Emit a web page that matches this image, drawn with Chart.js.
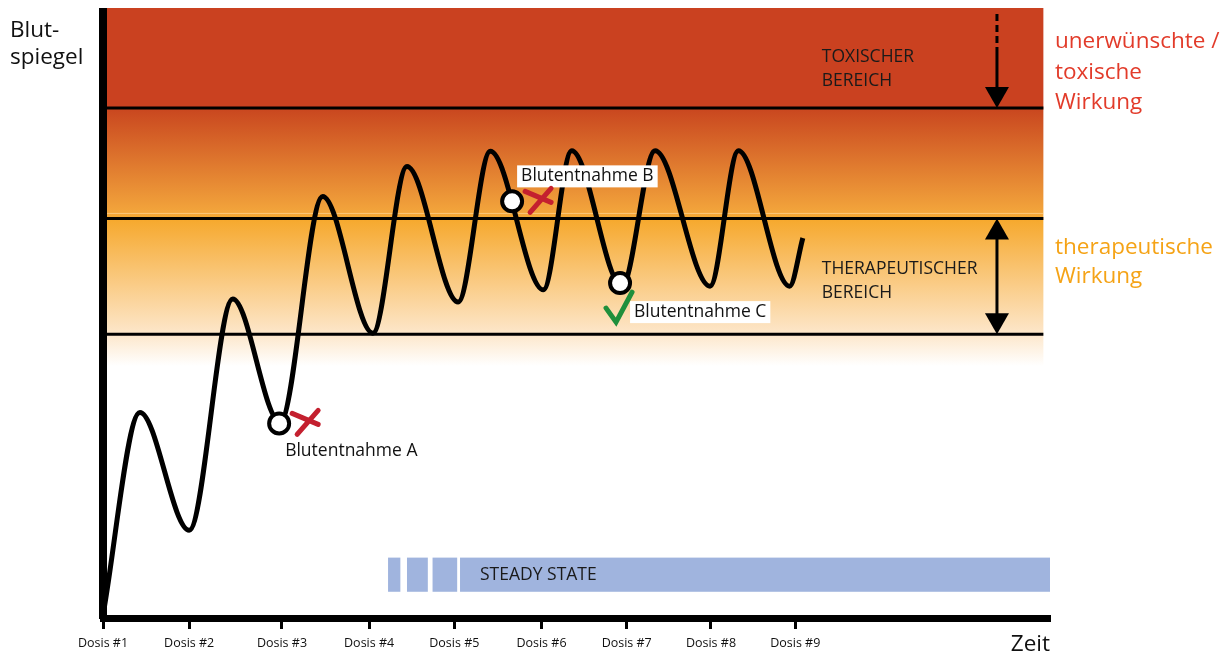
<!DOCTYPE html>
<html>
<head>
<meta charset="utf-8">
<script src="https://cdn.jsdelivr.net/npm/chart.js@4.4.1/dist/chart.umd.min.js"></script>
<style>
  body { margin: 0; background: #fff; }
  canvas { display: block; }
</style>
</head>
<body>
<canvas id="spiegel" width="1232" height="652"></canvas>
<script>
// Daten
const doseTimes = [0, 9.1, 18.9, 28.1, 37.1, 46.3, 55.3, 64.2, 73.1];
const doseLabels = ['Dosis #1', 'Dosis #2', 'Dosis #3', 'Dosis #4', 'Dosis #5', 'Dosis #6', 'Dosis #7', 'Dosis #8', 'Dosis #9'];

const curveTimes = [0, 3.9, 9.1, 13.7, 18.7, 23.2, 28.5, 32.1, 37.5, 40.9, 46.5, 49.5, 54.8, 58.3, 64.1, 67.1, 72.5, 73.9];
const curveLevels = [0.5, 33.7, 14.4, 52.3, 32.1, 69.1, 46.7, 74.0, 51.8, 76.5, 53.8, 76.6, 54.4, 76.6, 54.4, 76.6, 54.4, 62.3];

const sampleNames = ['Blutentnahme A', 'Blutentnahme B', 'Blutentnahme C'];
const sampleTimes = [18.6, 43.2, 54.6];
const sampleLevels = [31.9, 68.3, 54.9];

// Grenzen: toxisch, therapeutisch oben, therapeutisch unten
const bandLimits = [83.6, 65.5, 46.5];
const fadeLevel = 41.3;
const bandEnd = 99.3;

const steadyStarts = [30.1, 32.1, 34.8, 37.7];
const steadyEnds = [31.4, 34.3, 37.4, 100];
const steadyLow = 4.3;
const steadyHigh = 9.9;

const FONT = '"Open Sans", "Noto Sans", sans-serif';

function arrowHead(ctx, x, yTip, dir) {
  // dir = 1 -> Spitze nach unten, -1 -> nach oben
  ctx.beginPath();
  ctx.moveTo(x, yTip);
  ctx.lineTo(x - 12, yTip - dir * 21);
  ctx.lineTo(x + 12, yTip - dir * 21);
  ctx.closePath();
  ctx.fill();
}

const bereiche = {
  id: 'bereiche',
  beforeDraw(chart) {
    const { ctx, chartArea: a, scales: { x, y } } = chart;
    const xl = a.left;
    const xr = x.getPixelForValue(bandEnd);
    const yTop = y.getPixelForValue(100);
    const yTox = y.getPixelForValue(bandLimits[0]);
    const yTher = y.getPixelForValue(bandLimits[1]);
    const yLow = y.getPixelForValue(bandLimits[2]);
    const yFade = y.getPixelForValue(fadeLevel);

    ctx.save();
    ctx.fillStyle = '#ca4120';
    ctx.fillRect(xl, yTop, xr - xl, yTox - yTop);

    const h = yFade - yTox;
    const g = ctx.createLinearGradient(0, yTox, 0, yFade);
    g.addColorStop(0, '#c9461f');
    g.addColorStop((yTher - 5 - yTox) / h, '#f3a63c');
    g.addColorStop((yTher - yTox) / h, '#f6a82c');
    g.addColorStop((yLow - yTox) / h, '#fde7cb');
    g.addColorStop(1, '#ffffff');
    ctx.fillStyle = g;
    ctx.fillRect(xl, yTox, xr - xl, yFade - yTox);

    ctx.strokeStyle = 'rgba(255,220,160,0.6)';
    ctx.lineWidth = 1;
    ctx.beginPath();
    ctx.moveTo(xl, yTher - 5);
    ctx.lineTo(xr, yTher - 5);
    ctx.stroke();

    ctx.strokeStyle = '#000';
    ctx.lineWidth = 3;
    bandLimits.forEach(v => {
      const yy = y.getPixelForValue(v);
      ctx.beginPath();
      ctx.moveTo(xl, yy);
      ctx.lineTo(xr, yy);
      ctx.stroke();
    });

    // Steady State
    ctx.fillStyle = '#a0b4de';
    const ys1 = y.getPixelForValue(steadyHigh);
    const ys2 = y.getPixelForValue(steadyLow);
    steadyStarts.forEach((s, i) => {
      const x1 = x.getPixelForValue(s);
      const x2 = x.getPixelForValue(steadyEnds[i]);
      ctx.fillRect(x1, ys1, x2 - x1, ys2 - ys1);
    });
    ctx.fillStyle = '#1a1a1a';
    ctx.font = '17.5px ' + FONT;
    ctx.textBaseline = 'middle';
    ctx.fillText('STEADY STATE', x.getPixelForValue(steadyStarts[3]) + 20, (ys1 + ys2) / 2);
    ctx.restore();
  },
  afterDraw(chart) {
    const { ctx, chartArea: a, scales: { x, y } } = chart;
    const ax = x.getPixelForValue(94.4);
    const yTop = y.getPixelForValue(100);
    const yTox = y.getPixelForValue(bandLimits[0]);
    const yTher = y.getPixelForValue(bandLimits[1]);
    const yLow = y.getPixelForValue(bandLimits[2]);

    ctx.save();
    // weisser Streifen ueber dem Achsenende
    ctx.fillStyle = '#fff';
    ctx.fillRect(a.left - 6, 0, 12, yTop);

    ctx.fillStyle = '#000';
    ctx.strokeStyle = '#000';
    ctx.lineWidth = 3;
    // Pfeil toxisch
    ctx.setLineDash([7, 4]);
    ctx.beginPath();
    ctx.moveTo(ax, yTop + 6);
    ctx.lineTo(ax, yTop + 40);
    ctx.stroke();
    ctx.setLineDash([]);
    ctx.beginPath();
    ctx.moveTo(ax, yTop + 40);
    ctx.lineTo(ax, yTox - 18);
    ctx.stroke();
    arrowHead(ctx, ax, yTox, 1);
    // Doppelpfeil therapeutisch
    ctx.beginPath();
    ctx.moveTo(ax, yTher + 18);
    ctx.lineTo(ax, yLow - 18);
    ctx.stroke();
    arrowHead(ctx, ax, yTher, -1);
    arrowHead(ctx, ax, yLow, 1);

    // Bereichstexte
    ctx.fillStyle = '#1a1a1a';
    ctx.font = '17.5px ' + FONT;
    ctx.textBaseline = 'middle';
    const tx = x.getPixelForValue(75.9);
    ctx.fillText('TOXISCHER', tx, yTop + 49);
    ctx.fillText('BEREICH', tx, yTop + 73);
    ctx.fillText('THERAPEUTISCHER', tx, yTher + 51);
    ctx.fillText('BEREICH', tx, yTher + 75);

    // Wirkungen rechts
    ctx.font = '22.5px ' + FONT;
    ctx.fillStyle = '#e23b2a';
    const rx = a.right + 5;
    ctx.fillText('unerwünschte /', rx, yTop + 34);
    ctx.fillText('toxische', rx, yTop + 65);
    ctx.fillText('Wirkung', rx, yTop + 95);
    ctx.fillStyle = '#f5a316';
    ctx.fillText('therapeutische', rx, yTher + 29);
    ctx.fillText('Wirkung', rx, yTher + 58);

    // Achsentitel
    ctx.fillStyle = '#111';
    ctx.fillText('Blut-', 10, 31);
    ctx.fillText('spiegel', 10, 58);
    ctx.textAlign = 'right';
    ctx.fillText('Zeit', a.right, 645);
    ctx.textAlign = 'left';

    // Blutentnahmen
    const pts = sampleTimes.map((t, i) => [x.getPixelForValue(t), y.getPixelForValue(sampleLevels[i])]);
    ctx.font = '17.5px ' + FONT;
    ctx.fillStyle = '#111';
    ctx.fillText(sampleNames[0], pts[0][0] + 6, pts[0][1] + 28);

    const box = (txt, bx, by) => {
      const w = ctx.measureText(txt).width + 8;
      ctx.fillStyle = '#fff';
      ctx.fillRect(bx, by - 11, w, 22);
      ctx.fillStyle = '#111';
      ctx.fillText(txt, bx + 4, by);
    };
    box(sampleNames[1], pts[1][0] + 5, pts[1][1] - 25);
    box(sampleNames[2], pts[2][0] + 10, pts[2][1] + 29);

    // rote Kreuze
    ctx.lineCap = 'round';
    ctx.strokeStyle = '#c4202f';
    ctx.lineWidth = 5;
    [pts[0], pts[1]].forEach(([px, py]) => {
      ctx.beginPath();
      ctx.moveTo(px + 13, py - 10);
      ctx.lineTo(px + 39, py + 1);
      ctx.moveTo(px + 39, py - 13);
      ctx.lineTo(px + 18, py + 11);
      ctx.stroke();
    });
    // gruener Haken
    ctx.strokeStyle = '#1f8f3c';
    ctx.beginPath();
    const [cx, cy] = pts[2];
    ctx.moveTo(cx - 14, cy + 25);
    ctx.lineTo(cx - 4, cy + 39);
    ctx.lineTo(cx + 12, cy + 9);
    ctx.stroke();
    ctx.restore();
  }
};

new Chart(document.getElementById('spiegel').getContext('2d'), {
  type: 'line',
  data: {
    datasets: [
      {
        label: 'Blutentnahmen',
        data: sampleTimes.map((t, i) => ({ x: t, y: sampleLevels[i] })),
        showLine: false,
        pointRadius: 10,
        pointBackgroundColor: '#fff',
        pointBorderColor: '#000',
        pointBorderWidth: 4
      },
      {
        label: 'Blutspiegel',
        data: curveTimes.map((t, i) => ({ x: t, y: curveLevels[i] })),
        borderColor: '#000',
        borderWidth: 5,
        pointRadius: 0,
        cubicInterpolationMode: 'monotone',
        fill: false
      }
    ]
  },
  options: {
    responsive: false,
    animation: false,
    layout: { autoPadding: false, padding: { left: 103, top: 8, right: 182, bottom: -6 } },
    scales: {
      x: {
        type: 'linear',
        min: 0,
        max: 100,
        afterBuildTicks: axis => { axis.ticks = doseTimes.map(v => ({ value: v })); },
        grid: { drawOnChartArea: false, tickLength: 11, tickWidth: 3, tickColor: '#000' },
        border: { color: '#000', width: 7 },
        ticks: {
          autoSkip: false,
          maxRotation: 0,
          padding: 7,
          color: '#111',
          font: { family: FONT, size: 12.5 },
          callback: (value, index) => doseLabels[index]
        }
      },
      y: {
        min: 0,
        max: 100,
        grid: { display: false, drawTicks: false },
        border: { color: '#000', width: 8 },
        ticks: { display: false }
      }
    },
    plugins: {
      legend: { display: false },
      tooltip: { enabled: false }
    }
  },
  plugins: [bereiche]
});
</script>
</body>
</html>
